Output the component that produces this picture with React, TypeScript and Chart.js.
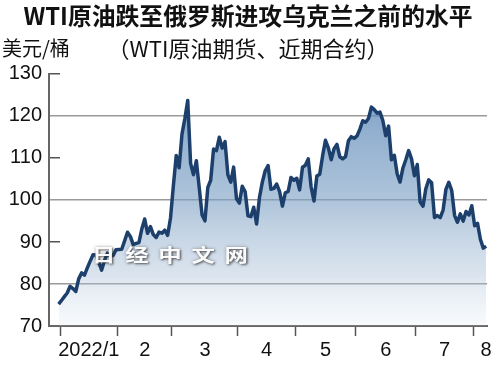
import React, { useEffect, useRef } from "react";
import { Chart, registerables } from "chart.js";

Chart.register(...registerables);

// WTI front-month settlement, USD/bbl, from 2021-12-31 to 2022-08-05 (one value per trading day)
const decClose = [75.21];
const janPrices = [76.08, 76.99, 77.85, 79.46, 78.9, 78.23, 81.22, 82.64, 82.12, 83.82, 85.43, 86.96, 86.9, 85.14, 83.31, 85.6, 87.35, 86.61, 86.82, 88.15];
const febPrices = [88.2, 88.26, 90.27, 92.31, 91.32, 89.36, 89.66, 89.88, 93.1, 95.46, 92.07, 93.66, 91.76, 91.07, 92.35, 92.1, 92.81, 91.59, 95.72];
const marPrices = [103.41, 110.6, 107.67, 115.68, 119.4, 123.7, 108.7, 106.02, 109.33, 103.01, 96.44, 95.04, 102.98, 104.7, 112.12, 111.76, 114.93, 112.34, 113.9, 105.96, 104.24, 107.82, 100.28];
const aprPrices = [99.27, 103.28, 102.0, 96.23, 96.03, 98.26, 94.29, 100.6, 104.25, 106.95, 108.21, 102.56, 102.75, 103.79, 102.07, 98.54, 101.7, 102.02, 105.36, 104.69];
const mayPrices = [105.17, 102.41, 107.81, 108.26, 109.77, 103.09, 99.76, 105.71, 106.13, 110.49, 114.2, 112.4, 109.59, 112.21, 113.23, 110.29, 109.77, 110.33, 114.09, 115.07, 114.67];
const junPrices = [115.26, 116.87, 118.87, 118.5, 119.41, 122.11, 121.51, 120.67, 120.93, 118.93, 115.31, 117.59, 109.56, 110.65, 106.19, 104.27, 107.62, 109.57, 111.76, 109.78, 105.76];
const julPrices = [108.43, 99.5, 98.53, 102.73, 104.79, 104.09, 95.84, 96.3, 95.78, 97.59, 102.6, 104.22, 102.26, 96.35, 94.7, 96.7, 94.98, 97.26, 96.42, 98.62];
const augPrices = [93.89, 94.42, 90.66, 88.54, 89.01];

const monthSeries = [janPrices, febPrices, marPrices, aprPrices, mayPrices, junPrices, julPrices, augPrices];
const monthLabels = ["2022/1", "2", "3", "4", "5", "6", "7", "8"];
const yTicks = [70, 80, 90, 100, 110, 120, 130];
const yGridValues = [80, 100, 120];

const TITLE = "WTI原油跌至俄罗斯进攻乌克兰之前的水平";
const SUBTITLE = "（WTI原油期货、近期合约）";
const UNIT = "美元/桶";
const WATERMARK = "日经中文网";

const prices: number[] = [...decClose, ...monthSeries.flat()];
const points = prices.map((v, i) => ({ x: i, y: v }));

// month boundaries (tick marks) and label positions, in trading-day index units
const boundaries: number[] = [];
const labelPos: number[] = [];
{
  let start = decClose.length;
  monthSeries.forEach((m, k) => {
    boundaries.push(start - 0.5);
    const isLast = k === monthSeries.length - 1;
    labelPos.push(isLast ? prices.length - 1 : start + (m.length - 1) / 2);
    start += m.length;
  });
}
const xTickValues = [...boundaries, ...labelPos].sort((a, b) => a - b);

const TICK_FONT = { family: '"Liberation Sans", Arial, sans-serif', size: 20 };

export default function App() {
  const ref = useRef<HTMLCanvasElement>(null);

  useEffect(() => {
    const canvas = ref.current;
    if (!canvas) return;
    const chart = new Chart(canvas, {
      type: "line",
      data: {
        datasets: [
          {
            data: points,
            borderColor: "#1c406b",
            borderWidth: 3.5,
            borderJoinStyle: "round",
            pointRadius: 0,
            tension: 0,
            fill: "start",
            backgroundColor: (ctx: any) => {
              const { chart } = ctx;
              const area = chart.chartArea;
              if (!area) return "rgba(120,160,200,0.5)";
              const g = chart.ctx.createLinearGradient(0, area.top, 0, area.bottom);
              g.addColorStop(0, "rgba(80,128,180,0.78)");
              g.addColorStop(0.5, "rgba(124,160,196,0.62)");
              g.addColorStop(0.8, "rgba(165,188,213,0.4)");
              g.addColorStop(1, "rgba(208,222,235,0.15)");
              return g;
            },
          },
        ],
      },
      options: {
        responsive: false,
        animation: false,
        layout: { padding: { left: 9, right: 13, top: 0, bottom: 14 } },
        plugins: {
          legend: { display: false },
          tooltip: { enabled: false },
          title: {
            display: true,
            text: TITLE,
            color: "#111",
            font: { family: '"Noto Sans CJK SC", sans-serif', size: 23.8, weight: "bold" },
            padding: { top: 1.7, bottom: 0 },
          },
          subtitle: {
            display: true,
            text: SUBTITLE,
            color: "#111",
            font: { family: '"Noto Sans CJK SC", sans-serif', size: 22, weight: "normal" },
            padding: { top: 5, bottom: 12.3 },
          },
        },
        scales: {
          x: {
            type: "linear",
            min: -3.35,
            max: prices.length - 1 + 0.3,
            afterBuildTicks: (scale: any) => {
              scale.ticks = xTickValues.map((v) => ({ value: v }));
            },
            ticks: {
              autoSkip: false,
              maxRotation: 0,
              padding: 2,
              color: "#111",
              font: TICK_FONT,
              callback: (v: any) => {
                const k = labelPos.indexOf(v);
                return k >= 0 ? monthLabels[k] : "";
              },
            },
            grid: {
              drawOnChartArea: false,
              tickLength: 10,
              tickWidth: 1.5,
              tickColor: (c: any) => (c.tick && boundaries.includes(c.tick.value) ? "#555" : "rgba(0,0,0,0)"),
            },
            border: { color: "#666", width: 2 },
          },
          y: {
            type: "linear",
            min: 70,
            max: 130,
            afterFit: (scale: any) => {
              scale.width = 40;
            },
            afterBuildTicks: (scale: any) => {
              scale.ticks = yTicks.map((v) => ({ value: v }));
            },
            ticks: {
              padding: 18,
              color: "#111",
              font: TICK_FONT,
            },
            grid: {
              tickLength: -11,
              lineWidth: 1.5,
              tickWidth: 1.5,
              color: (c: any) => (c.tick && yGridValues.includes(c.tick.value) ? "#9a9a9a" : "rgba(0,0,0,0)"),
              tickColor: (c: any) =>
                c.tick && !yGridValues.includes(c.tick.value) && c.tick.value !== 70 ? "#555" : "rgba(0,0,0,0)",
            },
            border: { color: "#666", width: 2 },
          },
        },
      },
    } as any);
    return () => chart.destroy();
  }, []);

  return (
    <div style={{ position: "fixed", left: 0, top: 0, width: 500, height: 378, background: "#fff", overflow: "hidden" }}>
      <canvas ref={ref} width={500} height={378} style={{ position: "absolute", left: 0, top: 0, width: 500, height: 378 }} />
      <div
        style={{
          position: "absolute",
          left: 2,
          top: 38,
          fontFamily: '"Noto Sans CJK SC", sans-serif',
          fontSize: 20,
          lineHeight: "20px",
          color: "#111",
          whiteSpace: "nowrap",
        }}
      >
        {UNIT}
      </div>
      <div
        style={{
          position: "absolute",
          left: 92,
          top: 244,
          fontFamily: '"Noto Sans CJK SC", sans-serif',
          fontWeight: "bold",
          fontSize: 18,
          lineHeight: "20px",
          letterSpacing: 7.5,
          color: "rgba(255,255,255,0.97)",
          textShadow: "1px 1px 2px rgba(40,40,40,0.7), 0 0 3px rgba(80,80,80,0.45)",
          transform: "scaleX(1.3)",
          transformOrigin: "left top",
          whiteSpace: "nowrap",
          pointerEvents: "none",
        }}
      >
        {WATERMARK}
      </div>
    </div>
  );
}
